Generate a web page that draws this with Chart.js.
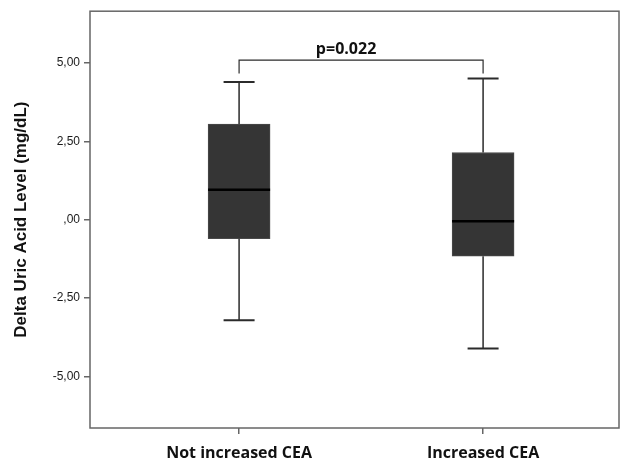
<!DOCTYPE html>
<html>
<head>
<meta charset="utf-8">
<script src="https://cdn.jsdelivr.net/npm/chart.js@4"></script>
<style>
  html, body { margin: 0; padding: 0; background: #fff; }
  #wrap { width: 635px; height: 462px; }
</style>
</head>
<body>
<div id="wrap"><canvas id="box"></canvas></div>
<script>
// box plot values
const groups      = ["Not increased CEA", "Increased CEA"];
const positions   = [1, 2];
const lowWhisker  = [-3.21, -4.11];
const q1          = [-0.61, -1.17];
const median      = [0.95, -0.05];
const q3          = [3.05, 2.14];
const highWhisker = [4.39, 4.50];

const yTicks      = [-5, -2.5, 0, 2.5, 5];
const yTickLabels = ["-5,00", "-2,50", ",00", "2,50", "5,00"];

const pText      = "p=0.022";
const bracketY   = 5.09;
const bracketLeg = 4.66;

const ink = "#2b2b2b";

const boxExtras = {
    id: "boxExtras",
    afterDatasetsDraw(chart) {
        const c  = chart.ctx;
        const xs = chart.scales.x;
        const ys = chart.scales.y;
        const meta = chart.getDatasetMeta(0);
        const area = chart.chartArea;

        c.save();
        c.strokeStyle = ink;
        c.lineCap = "butt";

        positions.forEach((p, i) => {
            const x = xs.getPixelForValue(p);
            const half = meta.data[i].width / 2;
            const cap = half / 2;

            c.lineWidth = 1.5;
            c.beginPath();
            c.moveTo(x, ys.getPixelForValue(q3[i]));
            c.lineTo(x, ys.getPixelForValue(highWhisker[i]));
            c.moveTo(x, ys.getPixelForValue(q1[i]));
            c.lineTo(x, ys.getPixelForValue(lowWhisker[i]));
            c.stroke();

            c.lineWidth = 2;
            c.beginPath();
            c.moveTo(x - cap, ys.getPixelForValue(highWhisker[i]));
            c.lineTo(x + cap, ys.getPixelForValue(highWhisker[i]));
            c.moveTo(x - cap, ys.getPixelForValue(lowWhisker[i]));
            c.lineTo(x + cap, ys.getPixelForValue(lowWhisker[i]));
            c.stroke();

            c.strokeStyle = "#000";
            c.lineWidth = 2.5;
            c.beginPath();
            c.moveTo(x - half, ys.getPixelForValue(median[i]));
            c.lineTo(x + half, ys.getPixelForValue(median[i]));
            c.stroke();
            c.strokeStyle = ink;
        });

        // significance bracket
        const xa = xs.getPixelForValue(positions[0]);
        const xb = xs.getPixelForValue(positions[1]);
        const yb = ys.getPixelForValue(bracketY);
        const yl = ys.getPixelForValue(bracketLeg);
        c.lineWidth = 1.2;
        c.beginPath();
        c.moveTo(xa, yl);
        c.lineTo(xa, yb);
        c.lineTo(xb, yb);
        c.lineTo(xb, yl);
        c.stroke();

        c.fillStyle = "#111";
        c.font = "bold 16px 'Open Sans'";
        c.textAlign = "center";
        c.textBaseline = "bottom";
        c.fillText(pText, (xa + xb) / 2 - 15, yb - 3);

        // frame
        c.strokeStyle = "#666";
        c.lineWidth = 1.5;
        c.strokeRect(area.left, area.top, area.right - area.left, area.bottom - area.top);
        c.restore();
    }
};

new Chart(document.getElementById("box"), {
    type: "bar",
    data: {
        datasets: [{
            data: positions.map((p, i) => ({ x: p, y: [q1[i], q3[i]] })),
            backgroundColor: "#353535",
            borderColor: "#4a4a4a",
            borderWidth: 1,
            borderSkipped: false,
            barThickness: 62
        }]
    },
    options: {
        responsive: true,
        maintainAspectRatio: false,
        animation: false,
        layout: { padding: { top: 10, right: 16, left: 0, bottom: 0 } },
        plugins: { legend: { display: false }, tooltip: { enabled: false } },
        scales: {
            x: {
                type: "linear",
                offset: false,
                min: 0.389,
                max: 2.557,
                afterFit: (s) => { s.height = 34; },
                afterBuildTicks: (s) => { s.ticks = positions.map(v => ({ value: v })); },
                grid: { offset: false, drawOnChartArea: false, tickLength: 6, color: "#666", lineWidth: 1.5 },
                border: { display: false },
                ticks: {
                    padding: 10,
                    color: "#111",
                    font: { family: "Open Sans", size: 16, weight: "bold" },
                    callback: (v) => groups[positions.indexOf(v)]
                }
            },
            y: {
                min: -6.65,
                max: 6.65,
                afterFit: (s) => { s.width = 90; },
                afterBuildTicks: (s) => { s.ticks = yTicks.map(v => ({ value: v })); },
                grid: { drawOnChartArea: false, tickLength: 6, color: "#666", lineWidth: 1.5 },
                border: { display: false },
                ticks: {
                    padding: 4,
                    color: "#1a1a1a",
                    font: { family: "Liberation Sans", size: 12 },
                    callback: (v) => yTickLabels[yTicks.indexOf(v)]
                },
                title: {
                    display: true,
                    text: "Delta Uric Acid Level (mg/dL)",
                    color: "#111",
                    font: { family: "Liberation Sans", size: 17, weight: "bold" },
                    padding: { top: 11, bottom: 0 }
                }
            }
        }
    },
    plugins: [boxExtras]
});
</script>
</body>
</html>
